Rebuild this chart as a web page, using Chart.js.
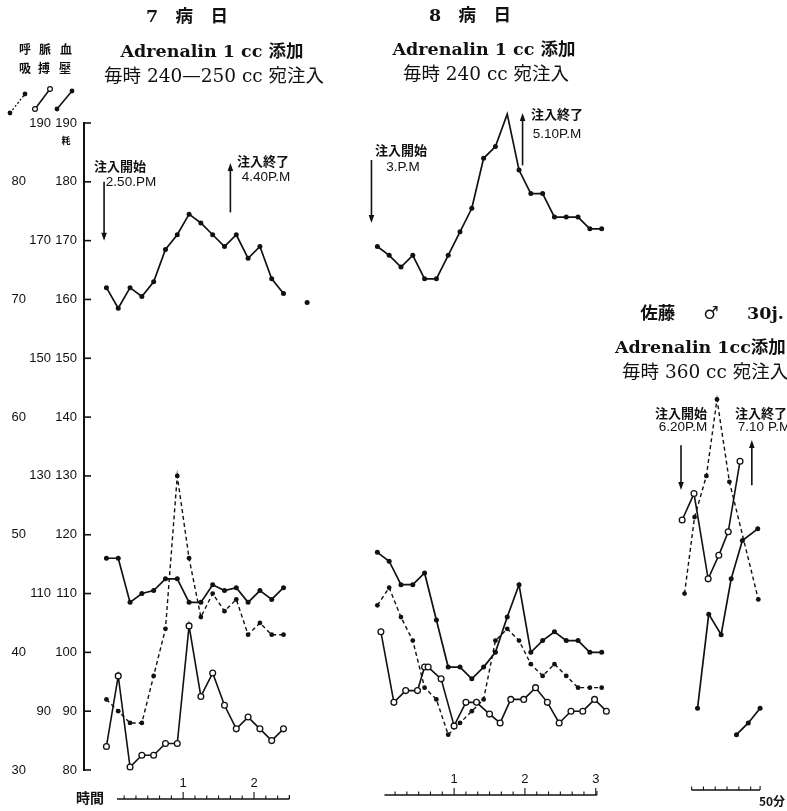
<!DOCTYPE html>
<html>
<head>
<meta charset="utf-8">
<script src="https://cdn.jsdelivr.net/npm/chart.js@4.4.1/dist/chart.umd.min.js"></script>
<style>
  html, body { margin: 0; padding: 0; background: #fff; overflow: hidden; }
  #wrap { position: relative; width: 787px; height: 811px; overflow: hidden; }
  #wrap canvas { position: absolute; left: 0; top: 0; }
  .t { position: absolute; transform: translate(-50%, -50%); white-space: nowrap; color: #111; line-height: 1; }
  .l { position: absolute; transform: translateY(-50%); white-space: nowrap; color: #111; line-height: 1; }
  .ttl { font-family: "DejaVu Serif", "Noto Sans CJK JP", serif; font-weight: bold; font-size: 17.5px; }
  .sub { font-family: "DejaVu Serif", "Noto Sans CJK JP", serif; font-size: 18.5px; }
  .note { font-family: "Noto Sans CJK JP", sans-serif; font-weight: 700; font-size: 13px; }
  .tm { font-family: "Liberation Sans", sans-serif; font-size: 13.5px; }
  .leg { font-family: "Noto Sans CJK JP", sans-serif; font-weight: 700; font-size: 12px; }
</style>
</head>
<body>
<div id="wrap">
  <canvas id="vitalChart" width="787" height="811"></canvas>

  <div class="t ttl" style="left:187px;top:17px;">7　病　日</div>
  <div class="t ttl" style="left:212px;top:52px;">Adrenalin 1 cc 添加</div>
  <div class="t sub" style="left:214px;top:76px;">毎時 240—250 cc 宛注入</div>

  <div class="t ttl" style="left:470px;top:16px;">8　病　日</div>
  <div class="t ttl" style="left:484px;top:50px;">Adrenalin 1 cc 添加</div>
  <div class="t sub" style="left:486px;top:74px;">毎時 240 cc 宛注入</div>

  <div class="t ttl" style="left:712px;top:314px;word-spacing:22px;">佐藤 ♂ 30j.</div>
  <div class="l ttl" style="left:615px;top:348px;">Adrenalin 1cc添加</div>
  <div class="l sub" style="left:622px;top:372px;">毎時 360 cc 宛注入</div>

  <div class="t leg" style="left:25px;top:49px;">呼</div>
  <div class="t leg" style="left:45px;top:49px;">脈</div>
  <div class="t leg" style="left:66px;top:49px;">血</div>
  <div class="t leg" style="left:25px;top:68px;">吸</div>
  <div class="t leg" style="left:44px;top:68px;">搏</div>
  <div class="t leg" style="left:65px;top:68px;">壓</div>
  <div class="t note" style="left:66px;top:140px;font-size:9px;">粍</div>

  <div class="t note" style="left:120px;top:165px;">注入開始</div>
  <div class="t tm" style="left:131px;top:182px;">2.50.PM</div>
  <div class="t note" style="left:263px;top:160px;">注入終了</div>
  <div class="t tm" style="left:266px;top:177px;">4.40P.M</div>

  <div class="t note" style="left:401px;top:149px;">注入開始</div>
  <div class="t tm" style="left:403px;top:167px;">3.P.M</div>
  <div class="t note" style="left:557px;top:113px;">注入終了</div>
  <div class="t tm" style="left:557px;top:134px;">5.10P.M</div>

  <div class="t note" style="left:681px;top:412px;">注入開始</div>
  <div class="t tm" style="left:683px;top:427px;">6.20P.M</div>
  <div class="t note" style="left:761px;top:412px;">注入終了</div>
  <div class="t tm" style="left:764px;top:427px;">7.10 P.M</div>

  <div class="t leg" style="left:90px;top:797px;font-size:14px;">時間</div>
  <div class="t leg" style="left:772px;top:801px;">50分</div>
</div>

<script>
// ## VITAL SIGNS CHART ##

const INK = "#111";

// axis ticks
const bpTicks = [80, 90, 100, 110, 120, 130, 140, 150, 160, 170, 180, 190];
const pulseTicks = [90, 110, 130, 150, 170, 190];
const respTicks = [30, 40, 50, 60, 70, 80];

// 7 病日 (minutes from the start of the time axis)
const times1 = [-5, 5, 15, 25, 35, 45, 55, 65, 75, 85, 95, 105, 115, 125, 135, 145, 155, 165];
const bpHigh1 = [162, 158.5, 162, 160.5, 163, 168.5, 171, 174.5, 173, 171, 169, 171, 167, 169, 163.5, 161, null, 159.5];
const bpLow1 = [116, 116, 108.5, 110, 110.5, 112.5, 112.5, 108.5, 108.5, 111.5, 110.5, 111, 108.5, 110.5, 109, 111];
const pulse1 = [84, 96, 80.5, 82.5, 82.5, 84.5, 84.5, 104.5, 92.5, 96.5, 91, 87, 89, 87, 85, 87];
const resp1 = [36, 35, 34, 34, 38, 42, 55, 48, 43, 45, 43.5, 44.5, 41.5, 42.5, 41.5, 41.5];

// 8 病日
const times2 = [-5, 5, 15, 25, 35, 45, 55, 65, 75, 85, 95, 105, 115, 125, 135, 145, 155, 165, 175, 185];
const bpHigh2 = [169, 167.5, 165.5, 167.5, 163.5, 163.5, 167.5, 171.5, 175.5, 184, 186, 191.5, 182, 178, 178, 174, 174, 174, 172, 172];
const bpLow2 = [117, 115.5, 111.5, 111.5, 113.5, 105.5, 97.5, 97.5, 95.5, 97.5, 100, 106, 111.5, 100, 102, 103.5, 102, 102, 100, 100];
const resp2 = [44, 45.5, 43, 41, 37, 36, 33, 34, 35, 36, 41, 42, 41, 39, 38, 39, 38, 37, 37, 37];
const pulseTimes2 = [-2, 9, 19, 29, 35, 38, 49, 60, 70, 79, 90, 99, 108, 119, 129, 139, 149, 159, 169, 179, 189];
const pulse2 = [103.5, 91.5, 93.5, 93.5, 97.5, 97.5, 95.5, 87.5, 91.5, 91.5, 89.5, 88, 92, 92, 94, 91.5, 88, 90, 90, 92, 90];

// 佐藤 ♂ 30j.
const pulseTimes3 = [-8, 2, 14, 23, 31, 41];
const pulse3 = [122.5, 127, 112.5, 116.5, 120.5, 132.5];
const respTimes3 = [-6, 2.5, 12.5, 21.5, 32, 56.5];
const resp3 = [45, 51.5, 55, 61.5, 54.5, 44.5];
const bpTimes3a = [5, 14.5, 25, 33.5, 43, 56];
const bp3a = [90.5, 106.5, 103, 112.5, 119, 121];
const bpTimes3b = [38, 48, 58];
const bp3b = [86, 88, 90.5];

// injection arrows: time, tail value, head value
const startArrowTime = [-7, -10, -9];
const startArrowFrom = [180, 183.7, 135.2];
const startArrowTo = [170, 173, 127.6];
const endArrowTime = [100, 118, 51];
const endArrowFrom = [174.8, 182.8, 128.4];
const endArrowTo = [183.2, 191.7, 136.1];

// time axes
const axisSpan = [[4, 150], [1, 181], [0, 58]];
const hourLabels = [["1", "2"], ["1", "2", "3"], []];

// layout
const panelOffset = [24, 253.5, 514.7];
const axisY = [799, 795, 790];

function toPoints(times, values, offset) {
  return values.map((v, i) => ({ x: offset + times[i], y: v }));
}

function bpSet(data) {
  return {
    data: data,
    yAxisID: "y",
    borderColor: INK,
    borderWidth: 1.7,
    pointRadius: 2.5,
    pointBackgroundColor: INK,
    pointBorderWidth: 0,
    tension: 0,
    clip: false,
    spanGaps: false,
  };
}

function pulseSet(data) {
  return {
    data: data,
    yAxisID: "y",
    borderColor: INK,
    borderWidth: 1.6,
    pointRadius: 2.9,
    pointBackgroundColor: "#fff",
    pointBorderColor: INK,
    pointBorderWidth: 1.3,
    tension: 0,
    clip: false,
  };
}

function respSet(data) {
  return {
    data: data,
    yAxisID: "yResp",
    borderColor: INK,
    borderWidth: 1.4,
    borderDash: [4, 3],
    pointRadius: 2.4,
    pointBackgroundColor: INK,
    pointBorderWidth: 0,
    tension: 0,
    clip: false,
  };
}

const [o1, o2, o3] = panelOffset;
const datasets = [
  pulseSet(toPoints(times1, pulse1, o1)),
  pulseSet(toPoints(pulseTimes2, pulse2, o2)),
  pulseSet(toPoints(pulseTimes3, pulse3, o3)),
  bpSet(toPoints(times1, bpHigh1, o1)),
  bpSet(toPoints(times1, bpLow1, o1)),
  bpSet(toPoints(times2, bpHigh2, o2)),
  bpSet(toPoints(times2, bpLow2, o2)),
  bpSet(toPoints(bpTimes3a, bp3a, o3)),
  bpSet(toPoints(bpTimes3b, bp3b, o3)),
  respSet(toPoints(times1, resp1, o1)),
  respSet(toPoints(times2, resp2, o2)),
  respSet(toPoints(respTimes3, resp3, o3)),
];

function drawArrow(ctx, x, y1, y2) {
  const dir = y2 > y1 ? 1 : -1;
  ctx.beginPath();
  ctx.moveTo(x, y1);
  ctx.lineTo(x, y2 - dir * 6);
  ctx.stroke();
  ctx.beginPath();
  ctx.moveTo(x, y2);
  ctx.lineTo(x - 2.8, y2 - dir * 8);
  ctx.lineTo(x + 2.8, y2 - dir * 8);
  ctx.closePath();
  ctx.fill();
}

function legendGlyph(ctx, x1, y1, x2, y2, kind) {
  ctx.save();
  ctx.lineWidth = kind === "resp" ? 1.3 : 1.6;
  ctx.setLineDash(kind === "resp" ? [2, 2] : []);
  ctx.beginPath();
  ctx.moveTo(x1, y1);
  ctx.lineTo(x2, y2);
  ctx.stroke();
  ctx.setLineDash([]);
  [[x1, y1], [x2, y2]].forEach(([px, py]) => {
    ctx.beginPath();
    ctx.arc(px, py, 2.4, 0, Math.PI * 2);
    if (kind === "pulse") {
      ctx.fillStyle = "#fff";
      ctx.fill();
      ctx.lineWidth = 1.2;
      ctx.stroke();
    } else {
      ctx.fillStyle = INK;
      ctx.fill();
    }
  });
  ctx.restore();
}

const decor = {
  id: "decor",
  afterDraw(chart) {
    const ctx = chart.ctx;
    const xs = chart.scales.x;
    const ys = chart.scales.y;
    ctx.save();
    ctx.strokeStyle = INK;
    ctx.fillStyle = INK;

    // inward ticks on the y axis
    ctx.lineWidth = 1.6;
    bpTicks.forEach((v) => {
      const py = ys.getPixelForValue(v);
      ctx.beginPath();
      ctx.moveTo(ys.right, py);
      ctx.lineTo(ys.right + 7, py);
      ctx.stroke();
    });

    // time axes under each panel
    ctx.font = "13px 'Liberation Sans', sans-serif";
    ctx.textAlign = "center";
    ctx.textBaseline = "middle";
    axisSpan.forEach(([a, b], p) => {
      const off = panelOffset[p];
      const y0 = axisY[p];
      ctx.lineWidth = 1.5;
      ctx.beginPath();
      ctx.moveTo(xs.getPixelForValue(off + a), y0);
      ctx.lineTo(xs.getPixelForValue(off + b), y0);
      ctx.stroke();
      ctx.lineWidth = 1.1;
      for (let m = Math.ceil(a / 10) * 10; m <= b; m += 10) {
        const px = xs.getPixelForValue(off + m);
        const len = m % 60 === 0 && m > 0 ? 7 : 3.5;
        ctx.beginPath();
        ctx.moveTo(px, y0);
        ctx.lineTo(px, y0 - len);
        ctx.stroke();
      }
      ctx.beginPath();
      ctx.moveTo(xs.getPixelForValue(off + b), y0);
      ctx.lineTo(xs.getPixelForValue(off + b), y0 - 4);
      ctx.stroke();
      hourLabels[p].forEach((txt, h) => {
        ctx.fillText(txt, xs.getPixelForValue(off + (h + 1) * 60), y0 - 16);
      });
    });

    // injection start / end arrows
    ctx.lineWidth = 1.6;
    startArrowTime.forEach((t, p) => {
      const px = xs.getPixelForValue(panelOffset[p] + t);
      drawArrow(ctx, px, ys.getPixelForValue(startArrowFrom[p]), ys.getPixelForValue(startArrowTo[p]));
    });
    endArrowTime.forEach((t, p) => {
      const px = xs.getPixelForValue(panelOffset[p] + t);
      drawArrow(ctx, px, ys.getPixelForValue(endArrowFrom[p]), ys.getPixelForValue(endArrowTo[p]));
    });

    // legend glyphs (respiration, pulse, blood pressure)
    legendGlyph(ctx, 10, 113, 25, 94, "resp");
    legendGlyph(ctx, 35, 109, 50, 89, "pulse");
    legendGlyph(ctx, 57, 109, 72, 91, "bp");

    ctx.restore();
  },
};

const tickFont = { family: "'Liberation Sans', sans-serif", size: 13 };

new Chart(document.getElementById("vitalChart").getContext("2d"), {
  type: "line",
  data: { datasets: datasets },
  plugins: [decor],
  options: {
    responsive: false,
    animation: false,
    layout: { padding: { top: 123, bottom: 41, left: 0, right: 0 } },
    plugins: { legend: { display: false }, tooltip: { enabled: false } },
    scales: {
      x: { type: "linear", display: false, min: 0, max: 591 },
      yResp: {
        position: "left",
        weight: 3,
        min: 30,
        max: 85,
        afterBuildTicks: (s) => { s.ticks = respTicks.map((v) => ({ value: v })); },
        afterFit: (s) => { s.width = 28; },
        grid: { display: false, drawTicks: false },
        border: { display: false },
        ticks: { padding: 2, font: tickFont, color: INK },
      },
      yPulse: {
        position: "left",
        weight: 2,
        min: 80,
        max: 190,
        afterBuildTicks: (s) => { s.ticks = pulseTicks.map((v) => ({ value: v })); },
        afterFit: (s) => { s.width = 26; },
        grid: { display: false, drawTicks: false },
        border: { display: false },
        ticks: { padding: 3, font: tickFont, color: INK },
      },
      y: {
        position: "left",
        weight: 1,
        min: 80,
        max: 190,
        afterBuildTicks: (s) => { s.ticks = bpTicks.map((v) => ({ value: v })); },
        afterFit: (s) => { s.width = 30; },
        grid: { display: false, drawTicks: false },
        border: { display: true, color: INK, width: 2 },
        ticks: { padding: 7, font: tickFont, color: INK },
      },
    },
  },
});
</script>
</body>
</html>
